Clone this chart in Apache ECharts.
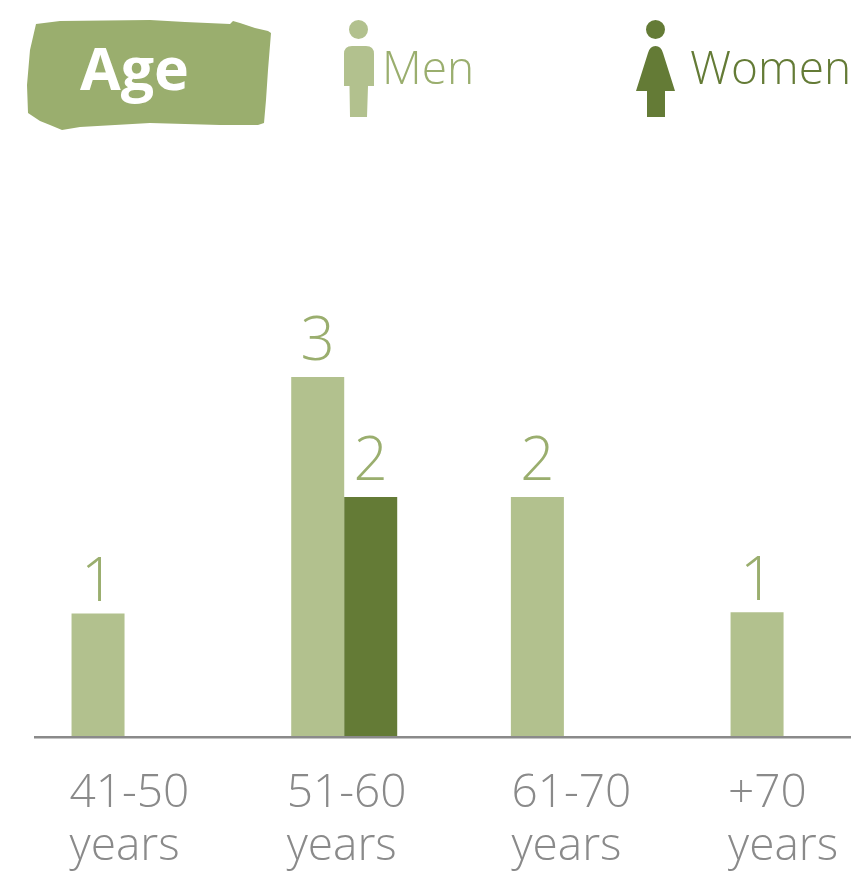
<!DOCTYPE html>
<html><head><meta charset="utf-8">
<style>html,body{margin:0;padding:0;background:#fff}#c{width:851px;height:873px}</style>
<script src="https://cdn.jsdelivr.net/npm/echarts@6/dist/echarts.min.js"></script>
</head><body><div id="c"></div>
<script>
const categories = ['41-50', '51-60', '61-70', '+70'];
const unitLabel = 'years';
const menValues = [1.03, 3, 2, 1.04];
const womenValues = [null, 2, null, null];
const labelWidths = [110, 115, 105, 111];
const FONT = '"Open Sans"';
const MEN = '#b2c18e', WOMEN = '#647b36', SAGE = '#9aae6e', GREY = '#8a8a8a';

const manIcon = 'path://M14.5 0A9.5 9.5 0 1 1 14.5 19A9.5 9.5 0 1 1 14.5 0ZM0 34Q0 26 8 26L22 26Q30 26 30 34L30 66L24 66L23 97L6 97L5.5 66L0 66Z';
const womanIcon = 'path://M19.5 0A9.5 9.5 0 1 1 19.5 19A9.5 9.5 0 1 1 19.5 0ZM19.5 26Q25 26 27 33L39 71L29 71L29 97L11 97L11 71L0 71L12 33Q14 26 19.5 26Z';

const rich = {};
labelWidths.forEach((w, i) => {
  rich['c' + i] = {width: w, align: 'left', fontFamily: FONT, fontWeight: 300, fontSize: 46, lineHeight: 53, color: GREY};
});

const valueLabel = {
  show: true, position: 'top', distance: 4, color: SAGE,
  fontFamily: FONT, fontWeight: 300, fontSize: 60,
  formatter: p => Math.round(p.value)
};

const legendText = (color, left) => ({
  rich: {t: {fontFamily: FONT, fontWeight: 300, fontSize: 46, color, padding: [4, 0, 0, left]}}
});

const chart = echarts.init(document.getElementById('c'), null, {renderer: 'canvas'});
chart.setOption({
  animation: false,
  backgroundColor: '#fff',
  title: {text: 'Age', left: 75, top: 39, textStyle: {fontFamily: FONT, fontWeight: 700, fontSize: 59, color: '#fff'}},
  legend: [
    {data: [{name: 'Men', icon: manIcon}], left: 344, top: 20, itemWidth: 30, itemHeight: 97, itemGap: 0, selectedMode: false,
     padding: 0, formatter: '{t|{name}}', textStyle: legendText(SAGE, 3)},
    {data: [{name: 'Women', icon: womanIcon}], left: 636, top: 20, itemWidth: 39, itemHeight: 97, itemGap: 0, selectedMode: false,
     padding: 0, formatter: '{t|{name}}', textStyle: legendText(WOMEN, 10)}
  ],
  grid: {left: 14.7, width: 878.7, top: 137, bottom: 136, outerBoundsMode: 'none'},
  xAxis: {
    type: 'category', data: categories,
    axisLine: {show: false}, axisTick: {show: false},
    axisLabel: {
      interval: 0, margin: 30, align: 'center', verticalAlign: 'top', hideOverlap: false,
      formatter: (v, i) => `{c${i}|${v}}\n{c${i}|${unitLabel}}`,
      rich
    }
  },
  yAxis: {type: 'value', min: 0, max: 5, show: false, splitLine: {show: false}},
  series: [
    {name: 'Men', type: 'bar', barWidth: 53, barGap: 0, itemStyle: {color: MEN}, label: valueLabel,
     data: menValues.map(v => v < 1.5 ? {value: v, label: {distance: -1}} : v)},
    {name: 'Women', type: 'bar', data: womenValues, barWidth: 53, barGap: 0, itemStyle: {color: WOMEN}, label: valueLabel}
  ],
  graphic: [
    {type: 'polygon', z: -1, shape: {points: [[36,24],[60,21],[150,20],[185,22],[230,24],[233,21],[240,23],[255,28],[268,31],[271,33],[268,70],[266,100],[264,123],[258,125],[220,125],[150,123],[80,127],[62,130],[50,125],[40,121],[28,113],[27,85],[30,50]]}, style: {fill: SAGE}},
    {type: 'line', z: 5, shape: {x1: 34, y1: 737.3, x2: 851, y2: 737.3}, style: {stroke: GREY, lineWidth: 2.5}}
  ]
});
</script></body></html>
